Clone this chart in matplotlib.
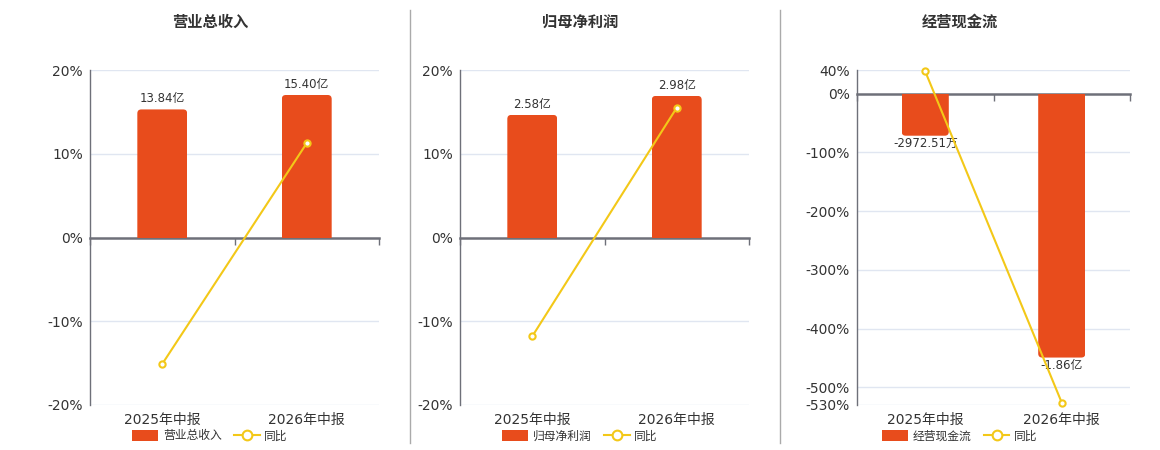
import matplotlib
matplotlib.use("Agg")
import matplotlib.pyplot as plt
from matplotlib.patches import FancyBboxPatch, Patch
from matplotlib.lines import Line2D

plt.rcParams['font.family'] = ['DejaVu Sans', 'Noto Sans CJK SC']

# data
periods = ['2025年中报', '2026年中报']
titles = ['营业总收入', '归母净利润', '经营现金流']
bar_values = [[13.84, 15.40], [2.58, 2.98], [-0.297251, -1.86]]   # 亿
bar_labels = [['13.84亿', '15.40亿'], ['2.58亿', '2.98亿'], ['-2972.51万', '-1.86亿']]
yoy = [[-15.1, 11.27], [-11.8, 15.5], [37.5, -526.0]]              # %
pct_ticks = [[-20, -10, 0, 10, 20], [-20, -10, 0, 10, 20],
             [-530, -500, -400, -300, -200, -100, 0, 40]]
pct_lims = [(-20, 20), (-20, 20), (-530, 40)]
bar_scale = [0.905, 0.17625, 0.00414]   # 亿 per percent point

BAR = '#E84C1C'
LINE = '#F3C818'
AXIS = '#6E7079'
GRID = '#E0E6F1'
TXT = '#333333'

fig = plt.figure(figsize=(11.6, 4.5), dpi=100)
W, H = 1160, 450

lefts = [90, 460, 857]
widths = [289, 289, 273]
top, bottom = 70, 405
centers = [210, 580, 960]


def rounded_bars(ax, bars, r=4):
    fig.canvas.draw()
    x0, x1 = ax.get_xlim()
    y0, y1 = ax.get_ylim()
    bb = ax.get_window_extent()
    px_x = bb.width / (x1 - x0)
    px_y = bb.height / (y1 - y0)
    rx = r / px_x
    ry = r / px_y
    for b in bars:
        x, w = b.get_x(), b.get_width()
        h = b.get_height()
        if h >= 0:
            ys, hs = -ry, h + ry
        else:
            ys, hs = h, -h + ry
        fb = FancyBboxPatch((x, ys), w, hs,
                            boxstyle=f"round,pad=0,rounding_size={rx}",
                            mutation_aspect=ry / rx,
                            fc=BAR, ec='none', zorder=2)
        ax.add_patch(fb)
        fb.set_clip_path(b)
        b.set_visible(False)


for i in range(3):
    ax = fig.add_axes([lefts[i] / W, 1 - bottom / H, widths[i] / W, (bottom - top) / H])
    lo, hi = pct_lims[i]
    ax.set_ylim(lo, hi)
    ax.set_xlim(-0.5, 1.5)
    ax.set_yticks(pct_ticks[i])
    ax.set_yticklabels([f'{t}%' for t in pct_ticks[i]])
    ax.tick_params(axis='y', length=0, pad=5, labelsize=10, labelcolor=TXT)
    for t in pct_ticks[i]:
        if t != 0:
            ax.axhline(t, color=GRID, lw=1, zorder=0)
    for s in ['top', 'right']:
        ax.spines[s].set_visible(False)
    ax.spines['left'].set_color(AXIS)
    ax.spines['left'].set_linewidth(1)
    ax.spines['bottom'].set_position(('data', 0))
    ax.spines['bottom'].set_color(AXIS)
    ax.spines['bottom'].set_linewidth(1.8)
    ax.set_xticks([-0.5, 0.5, 1.5])
    ax.set_xticklabels(['', '', ''])
    ax.tick_params(axis='x', length=5, width=1, color=AXIS, direction='out')
    for j, p in enumerate(periods):
        ax.annotate(p, xy=(j, 0), xycoords=ax.get_xaxis_transform(),
                    xytext=(0, -6), textcoords='offset points',
                    ha='center', va='top', fontsize=10, color=TXT)

    ax2 = ax.twinx()
    k = bar_scale[i]
    ax2.set_ylim(lo * k, hi * k)
    ax2.set_xlim(-0.5, 1.5)
    ax2.axis('off')
    bars = ax2.bar(range(len(periods)), bar_values[i], width=0.345, color=BAR, zorder=2)
    rounded_bars(ax2, bars)
    for j, v in enumerate(bar_values[i]):
        if v >= 0:
            ax2.annotate(bar_labels[i][j], xy=(j, v), xytext=(0, 3), textcoords='offset points',
                         ha='center', va='bottom', fontsize=8.5, color=TXT)
        else:
            ax2.annotate(bar_labels[i][j], xy=(j, v), xytext=(0, -1), textcoords='offset points',
                         ha='center', va='top', fontsize=8.5, color=TXT)
    ax2.plot(range(len(periods)), yoy[i], transform=ax.transData, color=LINE, lw=1.5,
             marker='o', ms=4.5, mfc='white', mec=LINE, mew=1.5, zorder=5, clip_on=False)

    fig.text(centers[i] / W, 1 - 22 / H, titles[i], ha='center', va='center',
             fontsize=11, fontweight='bold', color=TXT)

    handles = [Patch(fc=BAR, ec='none', label=titles[i]),
               Line2D([], [], color=LINE, lw=1.5, marker='o', ms=7, mfc='white',
                      mec=LINE, mew=1.5, label='同比')]
    fig.legend(handles=handles, loc='center', bbox_to_anchor=(centers[i] / W, 1 - 436 / H),
               ncol=2, frameon=False, fontsize=8.5, handlelength=2.2, handleheight=1.0,
               handletextpad=0.4, columnspacing=1.0, labelcolor=TXT)

for xs in [410, 780]:
    fig.add_artist(Line2D([xs / W, xs / W], [1 - 10 / H, 1 - 443 / H], color='#AAAAAA', lw=1))

fig.savefig('out.png', dpi=100)
